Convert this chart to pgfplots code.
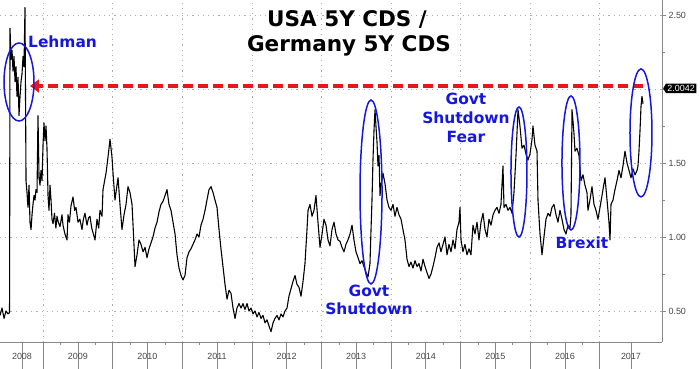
\documentclass[border=0pt]{standalone}
\usepackage{fontspec}
\setmainfont{Liberation Sans}
\newfontfamily\dv{DejaVu Sans}
\usepackage{pgfplots}
\pgfplotsset{compat=1.18}
\usetikzlibrary{arrows.meta,shapes.symbols}
\definecolor{annblue}{RGB}{22,22,225}
\definecolor{arrred}{RGB}{232,22,22}
\definecolor{axgray}{RGB}{135,135,135}
\definecolor{lblgray}{RGB}{70,70,70}
\begin{document}
\begin{tikzpicture}
\useasboundingbox (0,-27bp) rectangle (700bp,342bp);
\begin{axis}[
  at={(0,0)}, anchor=south west,
  width=662bp, height=342bp, scale only axis,
  xmin=2008.382, xmax=2017.894, ymin=0.2905, ymax=2.601,
  axis x line*=bottom, axis y line*=right,
  axis line style={axgray, line width=0.8bp},
  tick align=outside,
  tick style={axgray, line width=0.6bp},
  major tick length=4bp, minor tick length=2.5bp,
  xtick={2009,2010,2011,2012,2013,2014,2015,2016,2017}, xticklabels={},
  x tick style={/pgfplots/major tick length=27bp},
  minor x tick num=3,
  extra x ticks={2008.698,2009.5,2010.5,2011.5,2012.5,2013.5,2014.5,2015.5,2016.5,2017.448},
  extra x tick labels={2008,2009,2010,2011,2012,2013,2014,2015,2016,2017},
  extra x tick style={grid=none, /pgfplots/major tick length=0pt},
  ytick={0.5,1,1.5,2,2.5}, yticklabels={0.50,1.00,1.50,,2.50},
  minor y tick num=1,
  xmajorgrids, ymajorgrids,
  major grid style={dash pattern=on 1.2bp off 4bp, gray!65, line width=0.6bp},
  ticklabel style={font=\fontsize{9}{10}\selectfont, text=lblgray},
  xticklabel style={anchor=center, yshift=-14bp},
  yticklabel style={anchor=west, xshift=-1bp},
  clip=false,
]
\addplot[black, line width=1.1bp, line join=round] coordinates {
(2008.382,0.47) (2008.411,0.52) (2008.440,0.45) (2008.468,0.50) (2008.497,0.48) (2008.519,0.49)
(2008.526,2.41) (2008.540,2.20) (2008.555,2.26) (2008.569,2.12) (2008.583,2.22) (2008.598,2.05)
(2008.612,2.15) (2008.626,1.95) (2008.641,2.08) (2008.655,1.82) (2008.670,1.95) (2008.684,2.05)
(2008.698,2.10) (2008.713,2.22) (2008.727,2.15) (2008.741,2.55) (2008.756,1.38) (2008.770,1.30)
(2008.784,1.20) (2008.799,1.35) (2008.813,1.10) (2008.828,1.05) (2008.842,1.15) (2008.856,1.22)
(2008.871,1.28) (2008.885,1.25) (2008.899,1.32) (2008.914,1.30) (2008.928,1.82) (2008.943,1.40)
(2008.957,1.35) (2008.971,1.45) (2008.986,1.38) (2009.000,1.62) (2009.014,1.77) (2009.029,1.65)
(2009.043,1.75) (2009.057,1.60) (2009.072,1.28) (2009.086,1.18) (2009.101,1.35) (2009.115,1.25)
(2009.129,1.12) (2009.144,1.09) (2009.165,1.16) (2009.185,1.06) (2009.201,1.14) (2009.220,1.10)
(2009.244,1.07) (2009.273,1.15) (2009.287,1.08) (2009.315,1.02) (2009.345,0.98) (2009.359,1.15)
(2009.380,1.10) (2009.402,1.21) (2009.431,1.27) (2009.455,1.18) (2009.474,1.20) (2009.503,1.10)
(2009.530,1.12) (2009.560,1.05) (2009.580,1.12) (2009.603,1.16) (2009.632,1.08) (2009.655,1.13)
(2009.675,1.14) (2009.700,1.06) (2009.718,1.03) (2009.747,0.98) (2009.776,1.12) (2009.800,1.06)
(2009.819,1.18) (2009.848,1.14) (2009.862,1.32) (2009.885,1.38) (2009.905,1.43) (2009.934,1.54)
(2009.963,1.66) (2009.991,1.54) (2010.006,1.43) (2010.034,1.25) (2010.063,1.35) (2010.078,1.40)
(2010.106,1.22) (2010.135,1.05) (2010.164,1.15) (2010.193,1.22) (2010.221,1.34) (2010.250,1.30)
(2010.279,1.22) (2010.307,0.95) (2010.322,0.80) (2010.351,0.88) (2010.379,0.98) (2010.408,0.95)
(2010.437,0.90) (2010.466,0.93) (2010.494,0.86) (2010.523,0.92) (2010.552,0.96) (2010.580,1.00)
(2010.609,1.06) (2010.638,1.10) (2010.667,1.17) (2010.695,1.22) (2010.724,1.24) (2010.753,1.28)
(2010.782,1.32) (2010.810,1.22) (2010.839,1.18) (2010.868,1.10) (2010.897,1.02) (2010.925,0.88)
(2010.954,0.79) (2010.983,0.74) (2011.011,0.71) (2011.040,0.74) (2011.069,0.86) (2011.098,0.90)
(2011.126,0.92) (2011.155,0.95) (2011.184,0.98) (2011.213,1.02) (2011.241,1.00) (2011.270,1.08)
(2011.299,1.12) (2011.328,1.18) (2011.356,1.25) (2011.385,1.32) (2011.414,1.34) (2011.443,1.30)
(2011.471,1.25) (2011.500,1.20) (2011.529,1.05) (2011.557,0.92) (2011.586,0.80) (2011.615,0.68)
(2011.644,0.58) (2011.672,0.64) (2011.701,0.62) (2011.730,0.52) (2011.759,0.45) (2011.787,0.52)
(2011.816,0.55) (2011.845,0.52) (2011.874,0.55) (2011.902,0.51) (2011.931,0.55) (2011.960,0.50)
(2011.989,0.52) (2012.017,0.48) (2012.046,0.50) (2012.075,0.46) (2012.103,0.49) (2012.132,0.45)
(2012.161,0.47) (2012.190,0.42) (2012.218,0.44) (2012.247,0.40) (2012.276,0.36) (2012.305,0.42)
(2012.333,0.45) (2012.362,0.47) (2012.391,0.44) (2012.420,0.48) (2012.448,0.46) (2012.477,0.50)
(2012.506,0.52) (2012.534,0.60) (2012.563,0.65) (2012.592,0.70) (2012.621,0.74) (2012.649,0.68)
(2012.678,0.66) (2012.707,0.60) (2012.736,0.70) (2012.764,0.82) (2012.793,1.05) (2012.808,1.18)
(2012.836,1.22) (2012.865,1.14) (2012.894,1.18) (2012.922,1.28) (2012.951,1.10) (2012.980,0.93)
(2013.009,1.02) (2013.037,1.12) (2013.066,1.08) (2013.095,0.98) (2013.124,0.94) (2013.152,1.05)
(2013.181,1.10) (2013.210,1.02) (2013.239,0.98) (2013.267,0.97) (2013.296,0.93) (2013.325,0.90)
(2013.353,0.95) (2013.382,0.98) (2013.411,1.02) (2013.440,1.08) (2013.468,0.98) (2013.497,0.90)
(2013.526,0.86) (2013.555,0.82) (2013.583,0.84) (2013.612,0.80) (2013.641,0.76) (2013.670,0.73)
(2013.698,0.82) (2013.713,1.05) (2013.727,1.25) (2013.741,1.52) (2013.756,1.72) (2013.770,1.86)
(2013.784,1.75) (2013.799,1.64) (2013.813,1.48) (2013.828,1.55) (2013.842,1.28) (2013.856,1.35)
(2013.885,1.43) (2013.914,1.36) (2013.943,1.25) (2013.971,1.20) (2014.000,1.18) (2014.029,1.22)
(2014.057,1.14) (2014.086,1.20) (2014.115,1.15) (2014.144,1.12) (2014.172,1.05) (2014.201,0.98)
(2014.230,0.85) (2014.259,0.80) (2014.287,0.83) (2014.316,0.79) (2014.345,0.84) (2014.374,0.80)
(2014.402,0.82) (2014.431,0.77) (2014.460,0.85) (2014.489,0.80) (2014.517,0.76) (2014.546,0.72)
(2014.575,0.75) (2014.603,0.80) (2014.632,0.86) (2014.661,0.93) (2014.690,0.96) (2014.718,0.90)
(2014.747,0.95) (2014.776,1.00) (2014.805,0.88) (2014.833,0.95) (2014.862,0.90) (2014.891,0.98)
(2014.920,0.92) (2014.948,1.05) (2014.977,1.10) (2014.991,1.20) (2015.006,0.98) (2015.034,0.90)
(2015.063,0.95) (2015.092,0.88) (2015.121,0.92) (2015.149,0.88) (2015.178,1.08) (2015.207,1.02)
(2015.236,1.10) (2015.264,0.98) (2015.293,1.10) (2015.322,1.16) (2015.351,1.05) (2015.379,1.00)
(2015.408,1.12) (2015.437,1.08) (2015.466,1.15) (2015.494,1.18) (2015.523,1.20) (2015.552,1.16)
(2015.580,1.22) (2015.609,1.48) (2015.624,1.20) (2015.652,1.22) (2015.681,1.18) (2015.710,1.20)
(2015.739,1.16) (2015.767,1.30) (2015.796,1.55) (2015.825,1.86) (2015.853,1.75) (2015.882,1.60)
(2015.911,1.62) (2015.940,1.56) (2015.968,1.52) (2015.997,1.56) (2016.026,1.66) (2016.040,1.75)
(2016.069,1.62) (2016.098,1.58) (2016.112,1.25) (2016.141,1.02) (2016.170,0.88) (2016.198,1.00)
(2016.227,1.12) (2016.256,1.16) (2016.285,1.14) (2016.313,1.20) (2016.342,1.22) (2016.371,1.15)
(2016.399,1.10) (2016.428,1.18) (2016.457,1.12) (2016.486,1.05) (2016.514,1.02) (2016.543,1.08)
(2016.572,1.06) (2016.586,1.15) (2016.601,1.86) (2016.615,1.78) (2016.629,1.70) (2016.644,1.58)
(2016.672,1.60) (2016.701,1.55) (2016.730,1.38) (2016.759,1.42) (2016.787,1.35) (2016.816,1.30)
(2016.830,1.18) (2016.859,1.25) (2016.888,1.34) (2016.917,1.22) (2016.945,1.18) (2016.974,1.12)
(2017.003,1.20) (2017.032,1.28) (2017.060,1.36) (2017.075,1.40) (2017.104,1.25) (2017.132,1.10)
(2017.147,0.98) (2017.161,1.22) (2017.190,1.25) (2017.218,1.32) (2017.247,1.38) (2017.276,1.45)
(2017.305,1.40) (2017.333,1.48) (2017.362,1.58) (2017.391,1.50) (2017.420,1.45) (2017.448,1.40)
(2017.477,1.46) (2017.506,1.42) (2017.535,1.45) (2017.549,1.48) (2017.563,1.58) (2017.578,1.72)
(2017.592,1.88) (2017.606,1.95) (2017.621,1.90)
};
% annotations
\draw[arrred, line width=4bp, dash pattern=on 10bp off 5bp, -{Triangle[length=9bp,width=13bp]}]
  (axis cs:2017.621,2.02) -- (axis cs:2008.813,2.02);
\draw[annblue, line width=1.5bp] (axis cs:2008.655,2.047) ellipse [x radius=15bp, y radius=39bp];
\draw[annblue, line width=1.5bp] (axis cs:2013.713,1.304) ellipse [x radius=11bp, y radius=92bp];
\draw[annblue, line width=1.5bp] (axis cs:2015.839,1.439) ellipse [x radius=8bp, y radius=65bp];
\draw[annblue, line width=1.5bp] (axis cs:2016.586,1.500) ellipse [x radius=9bp, y radius=67bp];
\draw[annblue, line width=1.5bp] (axis cs:2017.592,1.703) ellipse [x radius=11bp, y radius=64bp];
\node[anchor=base, font=\dv\bfseries\fontsize{21.6}{24}\selectfont, inner sep=0] at (axis cs:2013.368,2.419) {USA 5Y CDS /};
\node[anchor=base, font=\dv\bfseries\fontsize{21.6}{24}\selectfont, inner sep=0] at (axis cs:2013.396,2.250) {Germany 5Y CDS};
\node[anchor=base west, text=annblue, font=\dv\bfseries\fontsize{15.5}{18}\selectfont, inner sep=0] at (axis cs:2008.784,2.277) {Lehman};
\node[anchor=base, text=annblue, font=\dv\bfseries\fontsize{15.5}{18}\selectfont, inner sep=0] at (axis cs:2015.077,1.892) {Govt};
\node[anchor=base, text=annblue, font=\dv\bfseries\fontsize{15.5}{18}\selectfont, inner sep=0] at (axis cs:2015.077,1.764) {Shutdown};
\node[anchor=base, text=annblue, font=\dv\bfseries\fontsize{15.5}{18}\selectfont, inner sep=0] at (axis cs:2015.077,1.635) {Fear};
\node[anchor=base, text=annblue, font=\dv\bfseries\fontsize{15.5}{18}\selectfont, inner sep=0] at (axis cs:2013.684,0.595) {Govt};
\node[anchor=base, text=annblue, font=\dv\bfseries\fontsize{15.5}{18}\selectfont, inner sep=0] at (axis cs:2013.684,0.473) {Shutdown};
\node[anchor=base, text=annblue, font=\dv\bfseries\fontsize{15.5}{18}\selectfont, inner sep=0] at (axis cs:2016.744,0.919) {Brexit};
\node[signal, signal to=west, signal pointer angle=120, anchor=west, fill=black, text=white, font=\fontsize{9}{10}\selectfont, inner xsep=1.5bp, inner ysep=1.5bp, xshift=1bp] at (axis cs:2017.894,2.0042) {2.0042};
\end{axis}
\end{tikzpicture}
\end{document}
